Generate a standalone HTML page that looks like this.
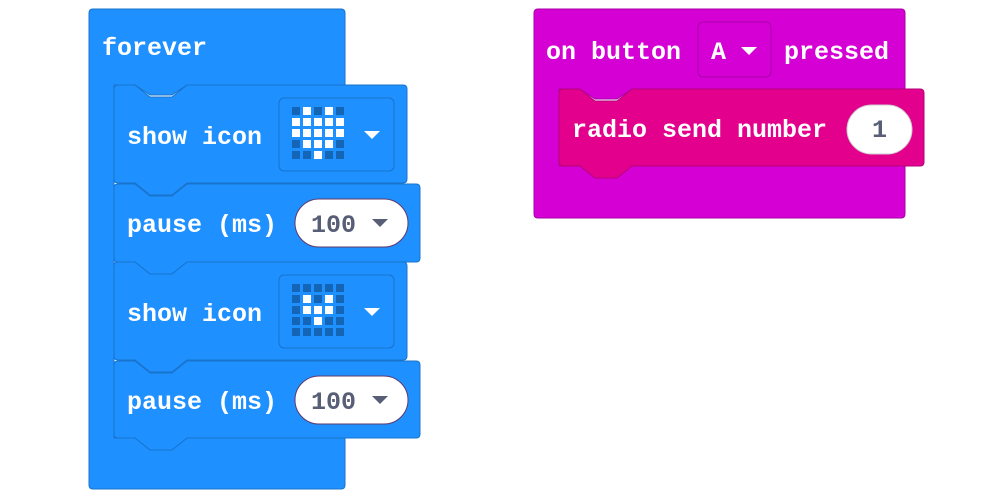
<!DOCTYPE html>
<html><head><meta charset="utf-8"><style>
html,body{margin:0;padding:0;background:#fff;width:1000px;height:498px;overflow:hidden}
text{font-family:"Liberation Mono","DejaVu Sans Mono",monospace;font-size:25px;font-weight:bold}
.w{fill:#fff}.d{fill:#575e75}
</style></head><body>
<svg width="1000" height="498" viewBox="0 0 1000 498" xmlns="http://www.w3.org/2000/svg">
<path d="M93,9 H341 Q345,9 345,13 V85 H187 L172,95 H150 L135,85 H114 V438 H135 L150,448 H172 L187,438 H345 V485 Q345,489 341,489 H93 Q89,489 89,485 V13 Q89,9 93,9 Z" fill="#1e90ff" stroke="#1873cc" stroke-width="1"/>
<text x="102" y="55" class="w">forever</text>

<path d="M118,85 H135 L150,97 H172 L187,85 H403 Q407,85 407,89 V179 Q407,183 403,183 H187 L172,195 H150 L135,183 H118 Q114,183 114,179 V89 Q114,85 118,85 Z" fill="#1e90ff" stroke="#1873cc"/>
<text x="127" y="144" class="w">show icon</text>
<rect x="279" y="98" width="115" height="73" rx="5" fill="#1e90ff" stroke="#1873cc"/>
<path d="M364,131 H380 L372,139 Z" fill="#fff"/>

<path d="M118,184 H135 L150,196 H172 L187,184 H416 Q420,184 420,188 V258 Q420,262 416,262 H187 L172,274 H150 L135,262 H118 Q114,262 114,258 V188 Q114,184 118,184 Z" fill="#1e90ff" stroke="#1873cc"/>
<text x="127" y="232" class="w">pause (ms)</text>
<rect x="295" y="199" width="113" height="48" rx="24" fill="#fff" stroke="#5c3a6e"/>
<text x="311" y="232" class="d">100</text>
<path d="M372,219 H388 L380,227 Z" fill="#575e75"/>

<path d="M118,262 H135 L150,274 H172 L187,262 H403 Q407,262 407,266 V356 Q407,360 403,360 H187 L172,372 H150 L135,360 H118 Q114,360 114,356 V266 Q114,262 118,262 Z" fill="#1e90ff" stroke="#1873cc"/>
<text x="127" y="321" class="w">show icon</text>
<rect x="279" y="275" width="115" height="73" rx="5" fill="#1e90ff" stroke="#1873cc"/>
<path d="M364,308 H380 L372,316 Z" fill="#fff"/>

<path d="M118,361 H135 L150,373 H172 L187,361 H416 Q420,361 420,365 V434 Q420,438 416,438 H187 L172,450 H150 L135,438 H118 Q114,438 114,434 V365 Q114,361 118,361 Z" fill="#1e90ff" stroke="#1873cc"/>
<text x="127" y="409" class="w">pause (ms)</text>
<rect x="295" y="376" width="113" height="48" rx="24" fill="#fff" stroke="#5c3a6e"/>
<text x="311" y="409" class="d">100</text>
<path d="M372,396 H388 L380,404 Z" fill="#575e75"/>

<g>
<rect x="292" y="107" width="8" height="8" fill="#1465b5"/><rect x="303" y="107" width="8" height="8" fill="#fff"/><rect x="314" y="107" width="8" height="8" fill="#1465b5"/><rect x="325" y="107" width="8" height="8" fill="#fff"/><rect x="336" y="107" width="8" height="8" fill="#1465b5"/>
<rect x="292" y="118" width="8" height="8" fill="#fff"/><rect x="303" y="118" width="8" height="8" fill="#fff"/><rect x="314" y="118" width="8" height="8" fill="#fff"/><rect x="325" y="118" width="8" height="8" fill="#fff"/><rect x="336" y="118" width="8" height="8" fill="#fff"/>
<rect x="292" y="129" width="8" height="8" fill="#fff"/><rect x="303" y="129" width="8" height="8" fill="#fff"/><rect x="314" y="129" width="8" height="8" fill="#fff"/><rect x="325" y="129" width="8" height="8" fill="#fff"/><rect x="336" y="129" width="8" height="8" fill="#fff"/>
<rect x="292" y="140" width="8" height="8" fill="#1465b5"/><rect x="303" y="140" width="8" height="8" fill="#fff"/><rect x="314" y="140" width="8" height="8" fill="#fff"/><rect x="325" y="140" width="8" height="8" fill="#fff"/><rect x="336" y="140" width="8" height="8" fill="#1465b5"/>
<rect x="292" y="151" width="8" height="8" fill="#1465b5"/><rect x="303" y="151" width="8" height="8" fill="#1465b5"/><rect x="314" y="151" width="8" height="8" fill="#fff"/><rect x="325" y="151" width="8" height="8" fill="#1465b5"/><rect x="336" y="151" width="8" height="8" fill="#1465b5"/>
<rect x="292" y="284" width="8" height="8" fill="#1465b5"/><rect x="303" y="284" width="8" height="8" fill="#1465b5"/><rect x="314" y="284" width="8" height="8" fill="#1465b5"/><rect x="325" y="284" width="8" height="8" fill="#1465b5"/><rect x="336" y="284" width="8" height="8" fill="#1465b5"/>
<rect x="292" y="295" width="8" height="8" fill="#1465b5"/><rect x="303" y="295" width="8" height="8" fill="#fff"/><rect x="314" y="295" width="8" height="8" fill="#1465b5"/><rect x="325" y="295" width="8" height="8" fill="#fff"/><rect x="336" y="295" width="8" height="8" fill="#1465b5"/>
<rect x="292" y="306" width="8" height="8" fill="#1465b5"/><rect x="303" y="306" width="8" height="8" fill="#fff"/><rect x="314" y="306" width="8" height="8" fill="#fff"/><rect x="325" y="306" width="8" height="8" fill="#fff"/><rect x="336" y="306" width="8" height="8" fill="#1465b5"/>
<rect x="292" y="317" width="8" height="8" fill="#1465b5"/><rect x="303" y="317" width="8" height="8" fill="#1465b5"/><rect x="314" y="317" width="8" height="8" fill="#fff"/><rect x="325" y="317" width="8" height="8" fill="#1465b5"/><rect x="336" y="317" width="8" height="8" fill="#1465b5"/>
<rect x="292" y="328" width="8" height="8" fill="#1465b5"/><rect x="303" y="328" width="8" height="8" fill="#1465b5"/><rect x="314" y="328" width="8" height="8" fill="#1465b5"/><rect x="325" y="328" width="8" height="8" fill="#1465b5"/><rect x="336" y="328" width="8" height="8" fill="#1465b5"/>
</g>

<path d="M538,9 H901 Q905,9 905,13 V89 H632 L617,99 H595 L580,89 H559 V166 H580 L595,176 H617 L632,166 H905 V214 Q905,218 901,218 H538 Q534,218 534,214 V13 Q534,9 538,9 Z" fill="#d400d4" stroke="#aa00aa"/>
<text x="546" y="59" class="w">on button</text>
<rect x="698" y="22" width="73" height="55" rx="5" fill="#d400d4" stroke="#aa00aa"/>
<text x="711" y="59" class="w">A</text>
<path d="M741,47 H757 L749,55 Z" fill="#fff"/>
<text x="784" y="59" class="w">pressed</text>

<path d="M563,89 H580 L595,101 H617 L632,89 H920 Q924,89 924,93 V162 Q924,166 920,166 H632 L617,178 H595 L580,166 H563 Q559,166 559,162 V93 Q559,89 563,89 Z" fill="#e3008c" stroke="#b6007a"/>
<text x="572" y="137" class="w">radio send number</text>
<rect x="847" y="105" width="65" height="49" rx="24.5" fill="#fff" stroke="#ccc"/>
<text x="872" y="137" class="d">1</text>
</svg>
</body></html>
